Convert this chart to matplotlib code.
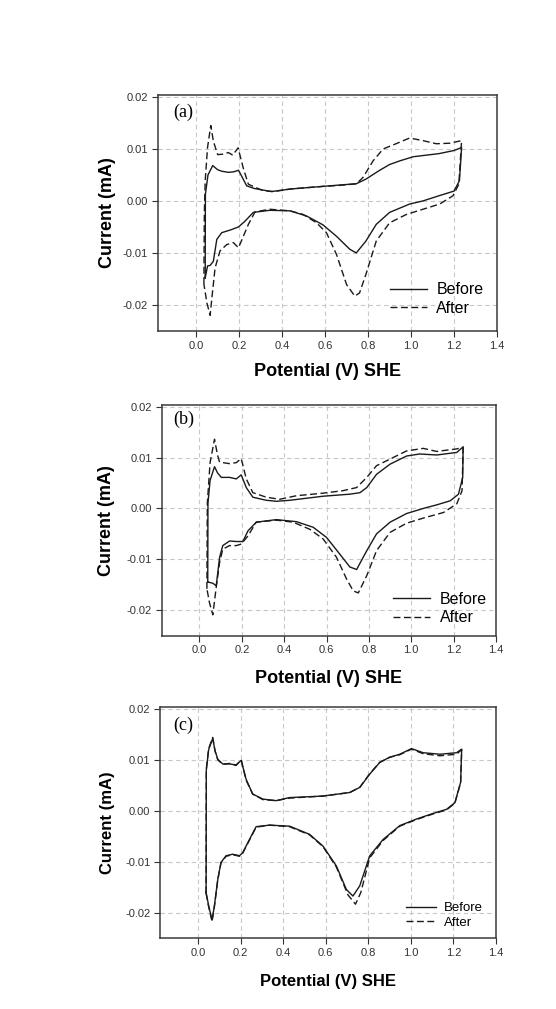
import matplotlib
matplotlib.use("Agg")
import matplotlib.pyplot as plt

# ---- data (potential V vs SHE, current mA) ----
# panel (a)
a_before_x = [0.042, 0.043, 0.055, 0.077, 0.100, 0.120, 0.150, 0.175, 0.197, 0.215, 0.235, 0.270, 0.310, 0.350,
              0.440, 0.590, 0.680, 0.745, 0.790, 0.854, 0.900, 0.947, 1.010, 1.130, 1.200, 1.225, 1.235,
              1.225, 1.200, 1.130, 1.055, 0.993, 0.900, 0.838, 0.790, 0.745, 0.715, 0.653, 0.590, 0.514,
              0.436, 0.343, 0.266, 0.227, 0.197, 0.158, 0.119, 0.096, 0.080, 0.065, 0.053, 0.042]
a_before_y = [-0.0148, 0.0013, 0.0050, 0.0068, 0.0060, 0.0057, 0.0055, 0.0056, 0.0059, 0.0045, 0.0029, 0.0024,
              0.0021, 0.0018, 0.0023, 0.0028, 0.0031, 0.0033, 0.0042, 0.0059, 0.0070, 0.0077, 0.0085, 0.0091,
              0.0097, 0.0101, 0.0103,
              0.0039, 0.0019, 0.0010, 0.0000, -0.0006, -0.0022, -0.0045, -0.0077, -0.0100, -0.0093, -0.0068,
              -0.0046, -0.0029, -0.0019, -0.0018, -0.0022, -0.0039, -0.0050, -0.0056, -0.0061, -0.0074,
              -0.0116, -0.0124, -0.0125, -0.0148]
a_after_x = [0.036, 0.038, 0.042, 0.053, 0.068, 0.080, 0.100, 0.125, 0.150, 0.170, 0.195, 0.220, 0.243, 0.310,
             0.360, 0.440, 0.590, 0.670, 0.745, 0.776, 0.823, 0.870, 0.930, 0.993, 1.055, 1.117, 1.180, 1.235,
             1.222, 1.195, 1.133, 1.055, 0.978, 0.900, 0.838, 0.790, 0.760, 0.738, 0.700, 0.653, 0.606, 0.560,
             0.498, 0.436, 0.343, 0.274, 0.243, 0.197, 0.173, 0.142, 0.111, 0.088, 0.073, 0.065, 0.050, 0.036]
a_after_y = [-0.0160, -0.0026, 0.0039, 0.0103, 0.0145, 0.0115, 0.0089, 0.0090, 0.0093, 0.0088, 0.0102, 0.0062,
             0.0032, 0.0020, 0.0018, 0.0023, 0.0028, 0.0030, 0.0033, 0.0045, 0.0077, 0.0100, 0.0110, 0.0121,
             0.0116, 0.0110, 0.0111, 0.0116,
             0.0032, 0.0010, -0.0006, -0.0016, -0.0026, -0.0042, -0.0077, -0.0141, -0.0177, -0.0183, -0.0161,
             -0.0103, -0.0061, -0.0042, -0.0026, -0.0019, -0.0016, -0.0021, -0.0045, -0.0090, -0.0080,
             -0.0084, -0.0096, -0.0129, -0.0187, -0.0220, -0.0196, -0.0160]

# panel (b)
b_before_x = [0.039, 0.040, 0.050, 0.071, 0.085, 0.103, 0.142, 0.174, 0.197, 0.221, 0.252, 0.316, 0.363, 0.426,
              0.584, 0.710, 0.758, 0.790, 0.836, 0.900, 0.978, 1.040, 1.120, 1.215, 1.245,
              1.243, 1.223, 1.184, 1.120, 1.057, 0.978, 0.900, 0.836, 0.790, 0.742, 0.710, 0.663, 0.600,
              0.537, 0.458, 0.363, 0.268, 0.229, 0.205, 0.174, 0.142, 0.110, 0.095, 0.079, 0.063, 0.044, 0.039]
b_before_y = [-0.0145, 0.0010, 0.0055, 0.0082, 0.0070, 0.0061, 0.0061, 0.0058, 0.0066, 0.0041, 0.0022, 0.0016,
              0.0014, 0.0016, 0.0024, 0.0028, 0.0031, 0.0041, 0.0067, 0.0087, 0.0103, 0.0107, 0.0105, 0.0110,
              0.0121,
              0.0061, 0.0028, 0.0015, 0.0007, 0.0000, -0.0010, -0.0027, -0.0050, -0.0083, -0.0120, -0.0115,
              -0.0090, -0.0057, -0.0037, -0.0026, -0.0022, -0.0027, -0.0044, -0.0065, -0.0065, -0.0064,
              -0.0073, -0.0096, -0.0152, -0.0147, -0.0145, -0.0145]
b_after_x = [0.035, 0.037, 0.050, 0.071, 0.085, 0.095, 0.142, 0.174, 0.197, 0.221, 0.252, 0.316, 0.379, 0.458,
             0.584, 0.679, 0.742, 0.790, 0.836, 0.900, 0.978, 1.057, 1.120, 1.215, 1.245,
             1.240, 1.215, 1.152, 1.057, 0.978, 0.900, 0.836, 0.790, 0.750, 0.726, 0.695, 0.647, 0.584,
             0.521, 0.442, 0.363, 0.268, 0.229, 0.197, 0.174, 0.142, 0.110, 0.095, 0.079, 0.063, 0.047, 0.035]
b_after_y = [-0.0158, 0.0010, 0.0090, 0.0136, 0.0105, 0.0091, 0.0088, 0.0090, 0.0098, 0.0058, 0.0031, 0.0022,
             0.0018, 0.0025, 0.0030, 0.0035, 0.0041, 0.0061, 0.0084, 0.0097, 0.0113, 0.0118, 0.0112, 0.0117,
             0.0120,
             0.0035, 0.0009, -0.0008, -0.0019, -0.0029, -0.0047, -0.0083, -0.0132, -0.0166, -0.0162, -0.0139,
             -0.0096, -0.0060, -0.0041, -0.0027, -0.0023, -0.0027, -0.0054, -0.0070, -0.0073, -0.0073,
             -0.0080, -0.0106, -0.0155, -0.0209, -0.0185, -0.0158]

# panel (c)
c_before_x = [0.038, 0.039, 0.050, 0.069, 0.080, 0.093, 0.116, 0.148, 0.179, 0.203, 0.226, 0.257, 0.305, 0.367,
              0.430, 0.587, 0.713, 0.760, 0.807, 0.854, 0.900, 0.948, 1.003, 1.058, 1.137, 1.215, 1.239,
              1.234, 1.207, 1.168, 1.105, 1.027, 0.948, 0.870, 0.807, 0.760, 0.728, 0.697, 0.650, 0.587,
              0.524, 0.430, 0.336, 0.273, 0.242, 0.210, 0.195, 0.163, 0.132, 0.108, 0.093, 0.077, 0.066,
              0.050, 0.038]
c_before_y = [-0.0160, 0.0080, 0.0120, 0.0142, 0.0118, 0.0101, 0.0092, 0.0092, 0.0090, 0.0099, 0.0062, 0.0033,
              0.0023, 0.0020, 0.0026, 0.0029, 0.0036, 0.0046, 0.0072, 0.0095, 0.0105, 0.0111, 0.0122, 0.0114,
              0.0111, 0.0114, 0.0121,
              0.0056, 0.0016, 0.0003, -0.0005, -0.0016, -0.0029, -0.0056, -0.0088, -0.0147, -0.0167, -0.0154,
              -0.0108, -0.0069, -0.0046, -0.0030, -0.0028, -0.0031, -0.0056, -0.0082, -0.0088, -0.0085,
              -0.0088, -0.0101, -0.0134, -0.0186, -0.0214, -0.0186, -0.0160]
c_after_x = [0.038, 0.039, 0.050, 0.069, 0.080, 0.093, 0.116, 0.148, 0.179, 0.203, 0.226, 0.257, 0.305, 0.367,
             0.430, 0.587, 0.713, 0.760, 0.807, 0.854, 0.900, 0.948, 1.003, 1.058, 1.137, 1.215, 1.239,
             1.234, 1.207, 1.168, 1.105, 1.027, 0.948, 0.870, 0.807, 0.765, 0.740, 0.705, 0.650, 0.587,
             0.524, 0.430, 0.336, 0.273, 0.242, 0.210, 0.195, 0.163, 0.132, 0.108, 0.093, 0.077, 0.066,
             0.050, 0.038]
c_after_y = [-0.0162, 0.0082, 0.0122, 0.0144, 0.0117, 0.0100, 0.0091, 0.0093, 0.0089, 0.0100, 0.0060, 0.0033,
             0.0022, 0.0020, 0.0025, 0.0029, 0.0036, 0.0046, 0.0073, 0.0095, 0.0105, 0.0110, 0.0121, 0.0112,
             0.0108, 0.0111, 0.0120,
             0.0055, 0.0015, 0.0002, -0.0006, -0.0017, -0.0030, -0.0058, -0.0092, -0.0160, -0.0183, -0.0165,
             -0.0110, -0.0070, -0.0047, -0.0031, -0.0028, -0.0032, -0.0057, -0.0083, -0.0089, -0.0086,
             -0.0089, -0.0102, -0.0135, -0.0188, -0.0217, -0.0188, -0.0162]

panel_tags = ["(a)", "(b)", "(c)"]
x_ticks = [0.0, 0.2, 0.4, 0.6, 0.8, 1.0, 1.2, 1.4]
y_ticks = [-0.02, -0.01, 0.00, 0.01, 0.02]

plt.rcParams["font.family"] = ["Liberation Sans", "DejaVu Sans"]

fig = plt.figure(figsize=(5.56, 10.09), dpi=100)

# axes rectangles in figure fraction
rects = [(0.284, 0.672, 0.610, 0.234),
         (0.291, 0.370, 0.601, 0.229),
         (0.288, 0.070, 0.604, 0.2295)]
tag_pos = [(0.044, 0.924), (0.034, 0.935), (0.039, 0.918)]
leg_anchor = [(0.96, 0.065), (0.972, 0.045), (0.962, 0.04)]
leg_size = [11.5, 11.5, 9.5]
xlab_y = [-0.136, -0.148, -0.152]
ylab_x = [-0.125, -0.14, -0.135]
xlab_size = [13, 13, 12]

data = [(a_before_x, a_before_y, a_after_x, a_after_y),
        (b_before_x, b_before_y, b_after_x, b_after_y),
        (c_before_x, c_before_y, c_after_x, c_after_y)]

for i, (bx, by, ax_, ay) in enumerate(data):
    ax = fig.add_axes(rects[i])
    ax.plot(bx, by, color="#1a1a1a", lw=1.0, label="Before")
    ax.plot(ax_, ay, color="#1a1a1a", lw=1.0, dashes=(5, 2.5), label="After")

    ax.set_xlim(-0.178, 1.4)
    ax.set_ylim(-0.025, 0.0204)
    ax.set_xticks(x_ticks)
    ax.set_yticks(y_ticks)
    ax.set_xticklabels(["%.1f" % v for v in x_ticks])
    ax.set_yticklabels(["%.2f" % v for v in y_ticks])
    ax.tick_params(direction="out", length=4, width=0.8, color="#333333",
                   labelsize=8, labelcolor="#333333", pad=3)
    ax.grid(True, color="#c8c8c8", lw=0.8, dashes=(4, 3))
    ax.set_axisbelow(True)
    for s in ax.spines.values():
        s.set_color("#3a3a3a")
        s.set_linewidth(1.1)

    ax.set_xlabel("Potential (V) SHE", fontsize=xlab_size[i], fontweight="bold")
    ax.set_ylabel("Current (mA)", fontsize=xlab_size[i], fontweight="bold")
    ax.xaxis.set_label_coords(0.5, xlab_y[i])
    ax.yaxis.set_label_coords(ylab_x[i], 0.5)

    ax.text(tag_pos[i][0], tag_pos[i][1], panel_tags[i], transform=ax.transAxes,
            family=["Liberation Serif", "DejaVu Serif"], fontsize=13, ha="left", va="center")

    ax.legend(loc="lower right", bbox_to_anchor=leg_anchor[i], frameon=False,
              fontsize=leg_size[i], handlelength=2.3, handletextpad=0.6,
              labelspacing=0.2, borderpad=0, borderaxespad=0)

plt.savefig("out.png", dpi=100)
